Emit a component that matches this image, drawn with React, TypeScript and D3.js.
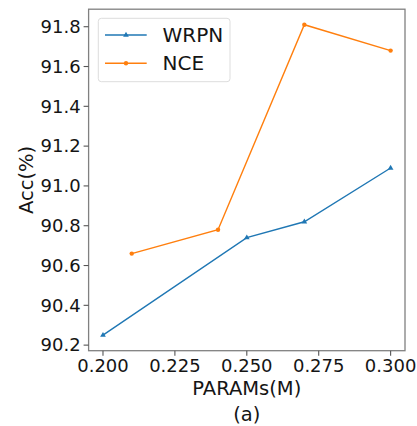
import * as React from 'react';
import * as d3 from 'd3';

const wrpnX = [0.2, 0.25, 0.27, 0.3];
const wrpnY = [90.25, 90.74, 90.82, 91.09];
const nceX = [0.21, 0.24, 0.27, 0.3];
const nceY = [90.66, 90.78, 91.81, 91.68];
const xTicks = [0.2, 0.225, 0.25, 0.275, 0.3];
const yTicks = [90.2, 90.4, 90.6, 90.8, 91.0, 91.2, 91.4, 91.6, 91.8];

const W = 417;
const H = 426;
const left = 88.6;
const right = 405;
const top = 9.2;
const bottom = 350.7;
const font = 'DejaVu Sans, sans-serif';
const ink = '#151515';

export default function App() {
  const x = d3.scaleLinear().domain([0.195, 0.305]).range([left, right]);
  const y = d3.scaleLinear().domain([90.172, 91.888]).range([bottom, top]);

  const line = d3.line<[number, number]>()
    .x(d => x(d[0]))
    .y(d => y(d[1]));

  const wrpn = wrpnX.map((v, i) => [v, wrpnY[i]] as [number, number]);
  const nce = nceX.map((v, i) => [v, nceY[i]] as [number, number]);
  const tri = d3.symbol().type(d3.symbolTriangle).size(14)();

  return (
    <svg width={W} height={H} style={{ position: 'absolute', left: 0, top: 0 }}>
      <rect width={W} height={H} fill='#fff' />
      {/* series */}
      <path d={line(wrpn) ?? ''} fill='none' stroke='#1f77b4' strokeWidth={1.4} />
      {wrpn.map((d, i) => (
        <path key={i} d={tri ?? ''} transform={`translate(${x(d[0])},${y(d[1])})`} fill='#1f77b4' />
      ))}
      <path d={line(nce) ?? ''} fill='none' stroke='#ff7f0e' strokeWidth={1.4} />
      {nce.map((d, i) => (
        <circle key={i} cx={x(d[0])} cy={y(d[1])} r={2.2} fill='#ff7f0e' />
      ))}

      {/* frame */}
      <rect x={left} y={top} width={right - left} height={bottom - top}
        fill='none' stroke='#808080' strokeWidth={1.3} />

      {/* y axis */}
      {yTicks.map(t => (
        <g key={t} transform={`translate(0,${y(t)})`}>
          <line x1={left - 5} x2={left} stroke='#555' strokeWidth={1.1} />
          <text x={left - 8} dy='0.35em' textAnchor='end' fontFamily={font}
            fontSize={18} fill={ink}>{t.toFixed(1)}</text>
        </g>
      ))}
      {/* x axis */}
      {xTicks.map(t => (
        <g key={t} transform={`translate(${x(t)},0)`}>
          <line y1={bottom} y2={bottom + 5} stroke='#555' strokeWidth={1.1} />
          <text y={371.5} textAnchor='middle' fontFamily={font}
            fontSize={18} fill={ink}>{t.toFixed(3)}</text>
        </g>
      ))}

      <text x={(left + right) / 2} y={395} textAnchor='middle' fontFamily={font}
        fontSize={19.5} fill={ink}>PARAMs(M)</text>
      <text x={(left + right) / 2} y={421} textAnchor='middle' fontFamily={font}
        fontSize={19.5} fill={ink}>(a)</text>
      <text transform={`translate(33,${(top + bottom) / 2}) rotate(-90)`} textAnchor='middle'
        fontFamily={font} fontSize={19.5} fill={ink}>Acc(%)</text>

      {/* legend */}
      <rect x={98.3} y={18.3} width={131.7} height={63.4} rx={3}
        fill='#fff' stroke='#ddd' strokeWidth={1} />
      <line x1={105} x2={146.7} y1={35} y2={35} stroke='#1f77b4' strokeWidth={1.4} />
      <path d={tri ?? ''} transform='translate(126,35)' fill='#1f77b4' />
      <text x={162.5} y={35} dy='0.35em' fontFamily={font} fontSize={20} fill={ink}>WRPN</text>
      <line x1={105} x2={146.7} y1={63.3} y2={63.3} stroke='#ff7f0e' strokeWidth={1.4} />
      <circle cx={126} cy={63.3} r={2.2} fill='#ff7f0e' />
      <text x={162.5} y={63.3} dy='0.35em' fontFamily={font} fontSize={20} fill={ink}>NCE</text>
    </svg>
  );
}
